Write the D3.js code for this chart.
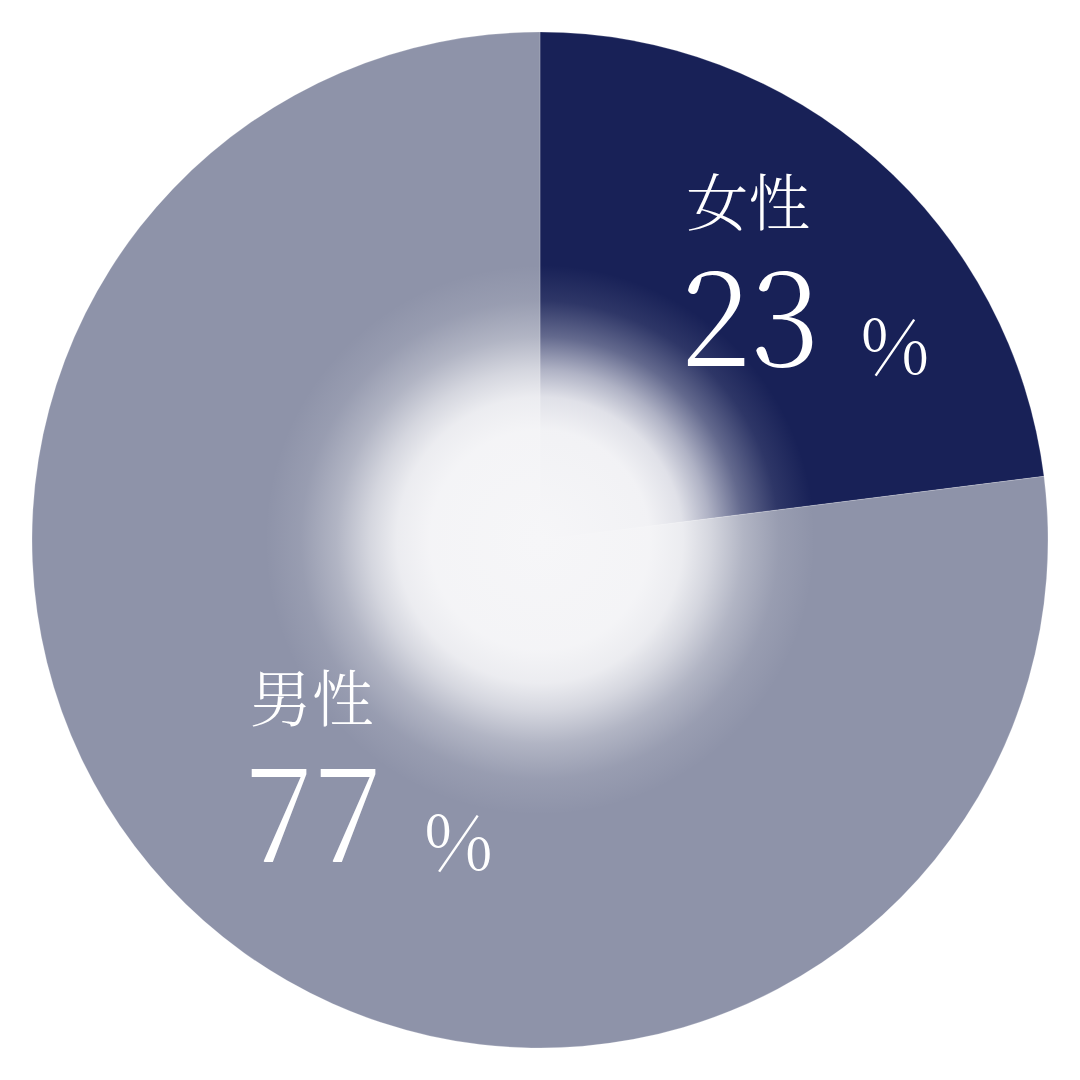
<!DOCTYPE html>
<html lang="ja">
<head>
<meta charset="utf-8">
<title>男女比</title>
<script src="https://d3js.org/d3.v7.min.js"></script>
<style>
  html, body { margin: 0; padding: 0; background: #ffffff; }
  svg { display: block; }
</style>
</head>
<body>
<script>
// data
var labels = ["女性", "男性"];
var values = [23, 77];
var colors = ["#182157", "#8e93a9"];

var width = 1080, height = 1080,
    cx = 540, cy = 540,
    radius = 508,
    labelRadius = 330;

var serif = "'Noto Serif CJK JP', 'Liberation Serif', 'Times New Roman', serif";

var svg = d3.select("body")
    .append("svg")
    .attr("width", width)
    .attr("height", height);

// soft white glow in the middle
var defs = svg.append("defs");
var glow = defs.append("radialGradient")
    .attr("id", "glow")
    .attr("cx", "50%").attr("cy", "50%").attr("r", "50%");
[[0, 1], [0.4, 0.98], [0.52, 0.9], [0.62, 0.68], [0.74, 0.34], [0.87, 0.1], [1, 0]]
  .forEach(function(s) {
    glow.append("stop")
        .attr("offset", s[0])
        .attr("stop-color", "#f6f6f8")
        .attr("stop-opacity", s[1]);
  });

var data = labels.map(function(l, i) { return {label: l, value: values[i], color: colors[i]}; });

var pie = d3.pie()
    .sort(null)
    .value(function(d) { return d.value; });

var arc = d3.arc().innerRadius(0).outerRadius(radius);
var labelArc = d3.arc().innerRadius(labelRadius).outerRadius(labelRadius);

var g = svg.append("g").attr("transform", "translate(" + cx + "," + cy + ")");

var arcs = pie(data);

g.selectAll("path.slice")
  .data(arcs)
  .enter()
  .append("path")
  .attr("class", "slice")
  .attr("d", arc)
  .style("fill", function(d) { return d.data.color; })
  .style("stroke", "#ffffff")
  .style("stroke-width", 0.6)
  .style("stroke-opacity", 0.35);

g.append("circle")
  .attr("r", 275)
  .style("fill", "url(#glow)");

// labels
var lab = g.selectAll("g.label")
  .data(arcs)
  .enter()
  .append("g")
  .attr("class", "label")
  .attr("transform", function(d) {
    var c = labelArc.centroid(d);
    return "translate(" + c[0] + "," + c[1] + ")";
  });

lab.append("text")
  .attr("x", -10)
  .attr("y", -66)
  .attr("text-anchor", "middle")
  .style("font-family", serif)
  .style("font-weight", 300)
  .style("font-size", "62px")
  .style("fill", "#ffffff")
  .text(function(d) { return d.data.label; });

lab.append("text")
  .attr("x", -8)
  .attr("y", 74)
  .attr("text-anchor", "middle")
  .style("font-family", serif)
  .style("font-weight", 300)
  .style("font-size", "128px")
  .style("fill", "#ffffff")
  .text(function(d) { return d.data.value; });

lab.append("text")
  .attr("x", 102)
  .attr("y", 82)
  .attr("text-anchor", "start")
  .style("font-family", serif)
  .style("font-weight", 300)
  .style("font-size", "76px")
  .style("fill", "#ffffff")
  .text("%");
</script>
</body>
</html>
